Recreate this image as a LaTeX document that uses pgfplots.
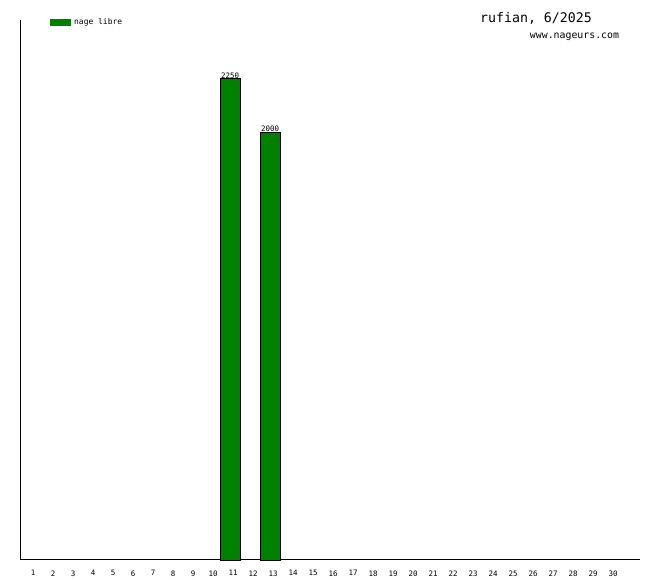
\documentclass[border=0pt]{standalone}
\usepackage{pgfplots}
\pgfplotsset{compat=1.18}
\usepackage{fontspec}
\setmainfont{DejaVu Sans Mono}
\definecolor{barg}{HTML}{008000}
\begin{document}
\begin{tikzpicture}[x=1bp,y=1bp]
\path (0,0) rectangle (660,580);
\begin{axis}[
  at={(20bp,20bp)}, anchor=south west,
  scale only axis, width=620bp, height=540bp,
  xmin=0.5, xmax=31.5, ymin=0, ymax=2524,
  axis x line=bottom, axis y line=left,
  axis line style={-, line width=1bp},
  xtick={1,...,30}, ytick=\empty,
  major tick length=0pt,
  xticklabel style={font=\fontsize{7.5}{8}\selectfont, xshift=3bp, yshift=-7bp},
  /pgf/number format/assume math mode=true,
  /pgf/number format/1000 sep={},
  clip=false,
]
\addplot[ybar, bar width=1, fill=barg, draw=black, line width=0.8bp,
  nodes near coords, every node near coord/.append style={font=\fontsize{7.5}{8}\selectfont, inner sep=0.5bp, yshift=-0.5bp, /pgf/number format/1000 sep={}}]
  coordinates {(11,2250) (13,2000)};
\end{axis}
\fill[barg] (50,554) rectangle (71,561);
\node[anchor=west, inner sep=0, font=\fontsize{8}{9}\selectfont] at (74,558) {nage libre};
\node[inner sep=0, font=\fontsize{13.3}{14}\selectfont] at (536,562) {rufian, 6/2025};
\node[inner sep=0, font=\fontsize{9.9}{11}\selectfont] at (574.5,543) {www.nageurs.com};
\end{tikzpicture}
\end{document}
